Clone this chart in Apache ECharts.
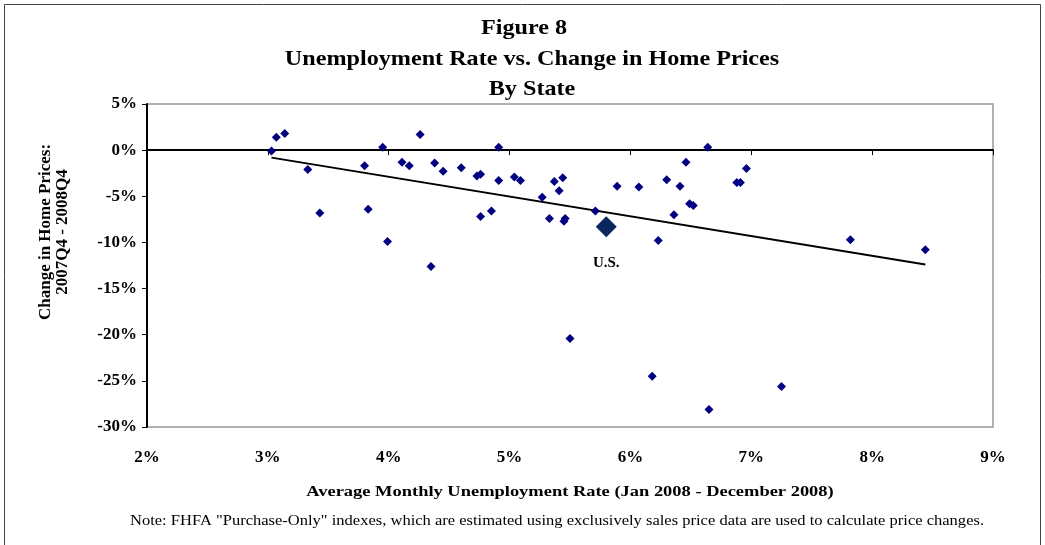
<!DOCTYPE html>
<html>
<head>
<meta charset="utf-8">
<script src="https://cdn.jsdelivr.net/npm/echarts@6/dist/echarts.min.js"></script>
<style>
  html, body { margin: 0; padding: 0; background: #fff; }
  #chart { width: 1045px; height: 545px; }
</style>
</head>
<body>
<div id="chart"></div>
<script>
// unemployment rate (%) by state, 2008 average
var unempRate = [
  3.03, 3.07, 3.14, 3.33, 3.43, 3.80, 3.83, 3.95, 3.99, 4.11,
  4.17, 4.26, 4.35, 4.38, 4.45, 4.60, 4.73, 4.76, 4.91, 4.91,
  5.04, 5.09, 4.76, 4.85, 5.27, 5.37, 5.44, 5.41, 5.33, 5.45,
  5.46, 5.71, 5.89, 6.07, 6.23, 6.30, 6.46, 6.41, 6.36, 6.49,
  6.52, 6.64, 6.96, 6.88, 6.91, 7.82, 8.44, 5.50, 6.18, 6.65,
  7.25
];
// change in home prices (%) 2007Q4 - 2008Q4
var priceChange = [
  -0.1, 1.4, 1.8, -2.1, -6.8, -1.7, -6.4, 0.3, -9.9, -1.3,
  -1.7, 1.7, -12.6, -1.4, -2.3, -1.9, -2.8, -2.6, -3.3, 0.3,
  -2.9, -3.3, -7.2, -6.6, -5.1, -3.4, -3.0, -4.4, -7.4, -7.7,
  -7.4, -6.6, -3.9, -4.0, -9.8, -3.2, -1.3, -3.9, -7.0, -5.8,
  -6.0, 0.3, -2.0, -3.5, -3.5, -9.7, -10.8, -20.4, -24.5, -28.1,
  -25.6
];
var usPoint = [5.80, -8.3];

var xTicks = [2, 3, 4, 5, 6, 7, 8, 9];
var yTicks = [5, 0, -5, -10, -15, -20, -25, -30];

var serif = '"Liberation Serif", "Times New Roman", serif';

// points for the state series
var statePoints = [];
for (var i = 0; i < unempRate.length; i++) {
  statePoints.push([unempRate[i], priceChange[i]]);
}

// linear trend (least squares) over the states, like the excel trendline
function trendLine(xs, ys) {
  var n = xs.length, sx = 0, sy = 0, sxx = 0, sxy = 0;
  for (var i = 0; i < n; i++) {
    sx += xs[i]; sy += ys[i];
    sxx += xs[i] * xs[i]; sxy += xs[i] * ys[i];
  }
  var b = (n * sxy - sx * sy) / (n * sxx - sx * sx);
  var a = (sy - b * sx) / n;
  var x0 = Math.min.apply(null, xs), x1 = Math.max.apply(null, xs);
  return [[x0, a + b * x0], [x1, a + b * x1]];
}
var trend = trendLine(unempRate, priceChange);

// text stretched a bit wider, like the original export
function wideText(str, cx, top, font, sx) {
  return {
    type: 'text', x: cx, y: top, scaleX: sx, silent: true,
    style: { text: str, font: font, fill: '#000', textAlign: 'center', textVerticalAlign: 'top' }
  };
}

var chart = echarts.init(document.getElementById('chart'));

chart.setOption({
  animation: false,
  backgroundColor: '#fff',
  graphic: [
    { type: 'rect', shape: { x: 4.5, y: 4.5, width: 1036, height: 560 },
      style: { fill: 'none', stroke: '#444', lineWidth: 1 }, silent: true },
    wideText('Figure 8', 524, 18, 'bold 21px ' + serif, 1.15),
    wideText('Unemployment Rate vs. Change in Home Prices', 532, 49, 'bold 21px ' + serif, 1.15),
    wideText('By State', 532, 79, 'bold 21px ' + serif, 1.15),
    wideText('Average Monthly Unemployment Rate (Jan 2008 - December 2008)', 570, 485, 'bold 15px ' + serif, 1.23),
    wideText('Note: FHFA "Purchase-Only" indexes, which are estimated using exclusively sales price data are used to calculate price changes.',
      557, 514, '14px ' + serif, 1.18),
    {
      type: 'text', x: 54, y: 232, rotation: Math.PI / 2, silent: true,
      style: {
        text: 'Change in Home Prices:\n2007Q4 - 2008Q4',
        font: 'bold 17px ' + serif, fill: '#000', lineHeight: 17,
        textAlign: 'center', textVerticalAlign: 'middle'
      }
    }
  ],
  grid: {
    left: 147, right: 52, top: 104, bottom: 118,
    show: true, borderColor: '#999', borderWidth: 1.5, backgroundColor: '#fff'
  },
  xAxis: [
    {
      // axis line + ticks crossing at y = 0
      type: 'value', min: 2, max: 9, interval: 1,
      axisLine: { onZero: true, lineStyle: { color: '#000', width: 2 } },
      axisTick: { show: true, length: 5, lineStyle: { color: '#000', width: 1 } },
      axisLabel: { show: false },
      splitLine: { show: false }
    },
    {
      // labels along the bottom
      type: 'value', min: 2, max: 9, interval: 1, position: 'bottom',
      axisLine: { show: false, onZero: false },
      axisTick: { show: false },
      splitLine: { show: false },
      axisLabel: {
        margin: 22, color: '#000', fontFamily: serif, fontSize: 17, fontWeight: 'bold',
        formatter: function (v) { return xTicks.indexOf(v) >= 0 ? v + '%' : ''; }
      }
    }
  ],
  yAxis: {
    type: 'value', min: -30, max: 5, interval: 5,
    axisLine: { show: true, onZero: false, lineStyle: { color: '#000', width: 2 } },
    axisTick: { show: true, length: 5, lineStyle: { color: '#000' } },
    splitLine: { show: false },
    axisLabel: {
      margin: 10, color: '#000', fontFamily: serif, fontSize: 17, fontWeight: 'bold',
      formatter: function (v) { return yTicks.indexOf(v) >= 0 ? v + '%' : ''; }
    }
  },
  series: [
    {
      type: 'line', data: trend, xAxisIndex: 0, showSymbol: false, symbol: 'none',
      lineStyle: { color: '#000', width: 2 }, silent: true, z: 1
    },
    {
      type: 'scatter', data: statePoints, xAxisIndex: 0,
      symbol: 'diamond', symbolSize: 9,
      itemStyle: { color: '#000080', opacity: 1 }, z: 3
    },
    {
      type: 'scatter', data: [usPoint], xAxisIndex: 0,
      symbol: 'diamond', symbolSize: 21,
      itemStyle: { color: '#0c2660', opacity: 1 }, z: 4,
      label: {
        show: true, position: 'bottom', distance: 18,
        formatter: 'U.S.', color: '#000', fontFamily: serif, fontSize: 15, fontWeight: 'bold'
      }
    }
  ]
});
</script>
</body>
</html>
